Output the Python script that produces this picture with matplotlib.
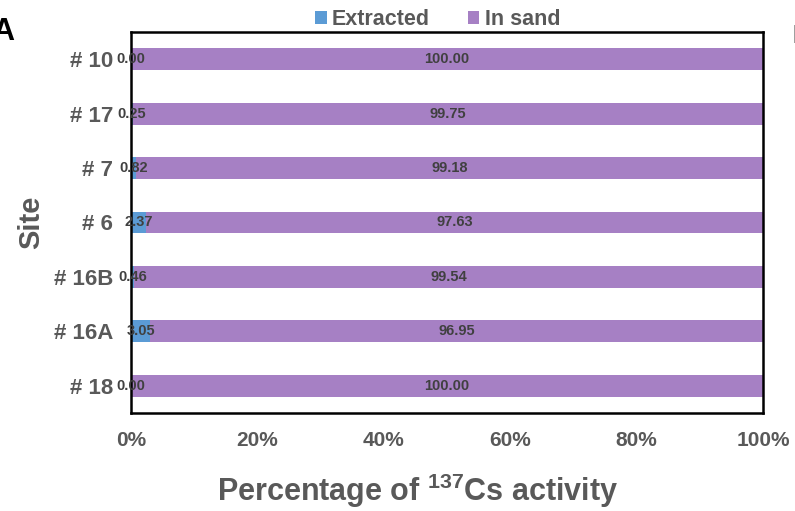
import numpy as np
import matplotlib.pyplot as plt

plt.rcParams['font.family'] = ['Liberation Sans', 'DejaVu Sans']
plt.rcParams['mathtext.fontset'] = 'custom'
plt.rcParams['mathtext.rm'] = 'Liberation Sans:bold'
plt.rcParams['mathtext.bf'] = 'Liberation Sans:bold'

# Data (bottom to top)
sites = ["# 18", "# 16A", "# 16B", "# 6", "# 7", "# 17", "# 10"]
extracted = [0.00, 3.05, 0.46, 2.37, 0.82, 0.25, 0.00]
in_sand = [100.00, 96.95, 99.54, 97.63, 99.18, 99.75, 100.00]

blue = '#5B9BD5'
purple = '#A680C4'
gray = '#595959'
dark = '#404040'

fig = plt.figure(figsize=(7.95, 5.11), dpi=100)
ax = fig.add_axes([0.1648, 0.1918, 0.7949, 0.7456])

y = np.arange(len(sites))
ext = np.array(extracted)
sand = np.array(in_sand)
ax.barh(y, ext, height=0.4, color=blue, label='Extracted')
ax.barh(y, sand, left=ext, height=0.4, color=purple, label='In sand')

# data labels centred in each segment
for i in range(len(sites)):
    ax.text(ext[i] / 2, y[i], f"{ext[i]:.2f}", ha='center', va='center',
            fontsize=10.5, fontweight='bold', color=dark)
    ax.text(ext[i] + sand[i] / 2, y[i], f"{sand[i]:.2f}", ha='center', va='center',
            fontsize=10.5, fontweight='bold', color=dark)

ax.set_xlim(0, 100)
ax.set_ylim(-0.5, len(sites) - 0.5)
ax.set_xticks(np.arange(0, 101, 20))
ax.set_xticklabels([f"{v}%" for v in range(0, 101, 20)])
ax.set_yticks(y)
ax.set_yticklabels(sites)
ax.tick_params(axis='x', length=0, pad=13, labelsize=15, labelcolor=gray)
ax.tick_params(axis='y', length=0, pad=13, labelsize=16, labelcolor=gray)
for lab in ax.get_xticklabels() + ax.get_yticklabels():
    lab.set_fontweight('bold')

for sp in ax.spines.values():
    sp.set_color('black')
    sp.set_linewidth(1.8)

ax.set_ylabel("Site", fontsize=21, fontweight='bold', color=gray, labelpad=6)
ax.set_xlabel("Percentage of $^{137}$Cs activity", fontsize=22, fontweight='bold',
              color=gray)
ax.xaxis.set_label_coords(0.453, -0.155)

leg = ax.legend(loc='lower center', bbox_to_anchor=(0.485, 1.005), ncol=2, frameon=False,
                fontsize=15.5, handlelength=0.55, handleheight=0.55, handletextpad=0.25,
                columnspacing=1.75, borderaxespad=0, borderpad=0)
for t in leg.get_texts():
    t.set_color(gray)
    t.set_fontweight('bold')

fig.text(-0.01, 0.938, "A", fontsize=22, fontweight='bold', color='black', va='center')
fig.text(0.997, 0.93, "B", fontsize=18, fontweight='bold', color='black', va='center')

fig.savefig("out.png", dpi=100)
